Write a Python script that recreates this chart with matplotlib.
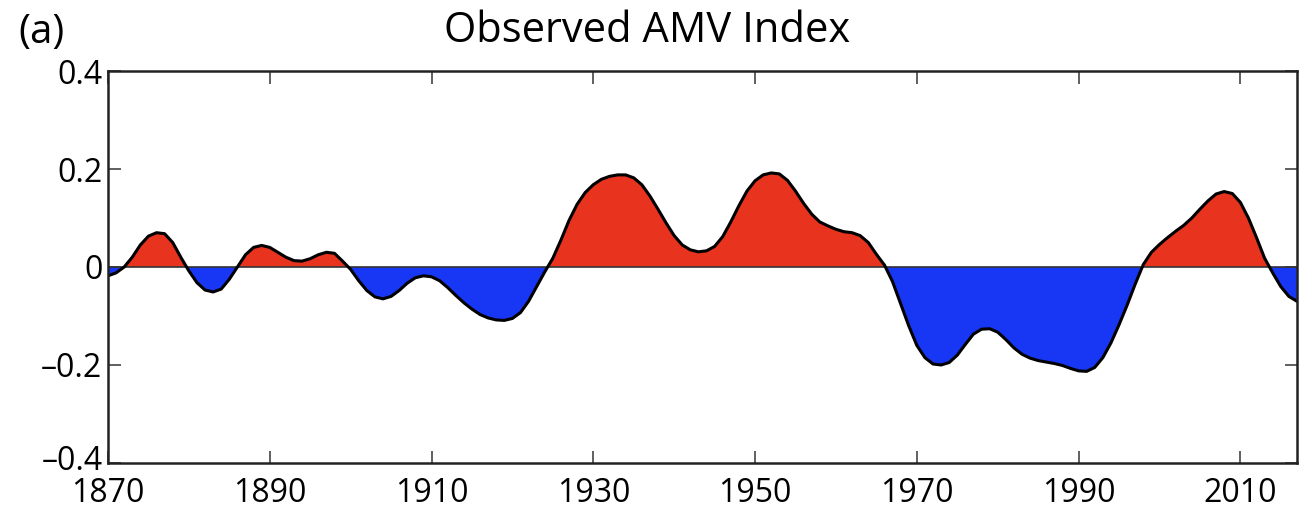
import matplotlib
matplotlib.use("Agg")
import matplotlib.pyplot as plt
import matplotlib.transforms as mtransforms
import numpy as np

plt.rcParams['font.family'] = ['Open Sans', 'DejaVu Sans']

# Observed AMV index (one value per year)
years = np.arange(1870, 2018)
amv = [
    -0.018, -0.012, 0.000, 0.020, 0.045, 0.063, 0.070, 0.068, 0.050, 0.020,   # 1870s
    -0.008, -0.032, -0.047, -0.051, -0.045, -0.025, 0.000, 0.025, 0.040, 0.044,  # 1880s
    0.040, 0.030, 0.020, 0.013, 0.012, 0.017, 0.025, 0.030, 0.028, 0.012,      # 1890s
    -0.005, -0.028, -0.048, -0.061, -0.065, -0.060, -0.048, -0.033, -0.022, -0.018,  # 1900s
    -0.020, -0.028, -0.042, -0.058, -0.073, -0.086, -0.097, -0.104, -0.108, -0.109,  # 1910s
    -0.105, -0.093, -0.070, -0.040, -0.010, 0.018, 0.055, 0.095, 0.128, 0.152,  # 1920s
    0.168, 0.179, 0.185, 0.188, 0.188, 0.182, 0.168, 0.145, 0.118, 0.090,      # 1930s
    0.064, 0.045, 0.035, 0.031, 0.033, 0.042, 0.062, 0.092, 0.125, 0.155,      # 1940s
    0.176, 0.188, 0.192, 0.190, 0.177, 0.155, 0.130, 0.108, 0.092, 0.084,      # 1950s
    0.077, 0.072, 0.070, 0.064, 0.050, 0.026, 0.004, -0.030, -0.075, -0.120,   # 1960s
    -0.160, -0.185, -0.198, -0.200, -0.195, -0.180, -0.158, -0.137, -0.127, -0.126,  # 1970s
    -0.133, -0.148, -0.165, -0.178, -0.186, -0.191, -0.194, -0.197, -0.201, -0.207,  # 1980s
    -0.212, -0.213, -0.205, -0.185, -0.155, -0.118, -0.078, -0.035, 0.005, 0.030,    # 1990s
    0.046, 0.060, 0.073, 0.085, 0.100, 0.118, 0.135, 0.149, 0.154, 0.150,      # 2000s
    0.132, 0.100, 0.060, 0.018, -0.012, -0.040, -0.060, -0.070,                # 2010s
]
amv = np.array(amv)

xticks = [1870, 1890, 1910, 1930, 1950, 1970, 1990, 2010]
yticks = [-0.4, -0.2, 0, 0.2, 0.4]
ylabels = ['\u20130.4', '\u20130.2', '0', '0.2', '0.4']

fig = plt.figure(figsize=(13.09, 5.11), dpi=100)
ax = fig.add_axes([0.0825, 0.094, 0.9083, 0.767])

ax.fill_between(years, amv, 0, where=amv >= 0, interpolate=True,
                color='#e8331f', linewidth=0)
ax.fill_between(years, amv, 0, where=amv <= 0, interpolate=True,
                color='#1837f5', linewidth=0)
ax.axhline(0, color='#333333', linewidth=1.2)
ax.plot(years, amv, color='black', linewidth=2.2)

ax.set_xlim(1870, 2017)
ax.set_ylim(-0.4, 0.4)
ax.set_xticks(xticks)
ax.set_yticks(yticks)
ax.set_yticklabels(ylabels)
ax.tick_params(direction='in', length=9, width=1.2, top=True, right=True,
               labelsize=23, pad=4, color='#444444')
ax.tick_params(axis='x', pad=10)
for s in ax.spines.values():
    s.set_linewidth(1.8)
    s.set_color('#222222')

# nudge the bottom y label up a little so it clears "1870"
lbl = ax.get_yticklabels()[0]
lbl.set_transform(lbl.get_transform() + mtransforms.ScaledTranslation(0, 4 / 72, fig.dpi_scale_trans))

fig.text(0.494, 0.94, 'Observed AMV Index', ha='center', va='center', fontsize=30)
fig.text(0.014, 0.935, '(a)', ha='left', va='center', fontsize=29)

fig.savefig('out.png', dpi=100)
